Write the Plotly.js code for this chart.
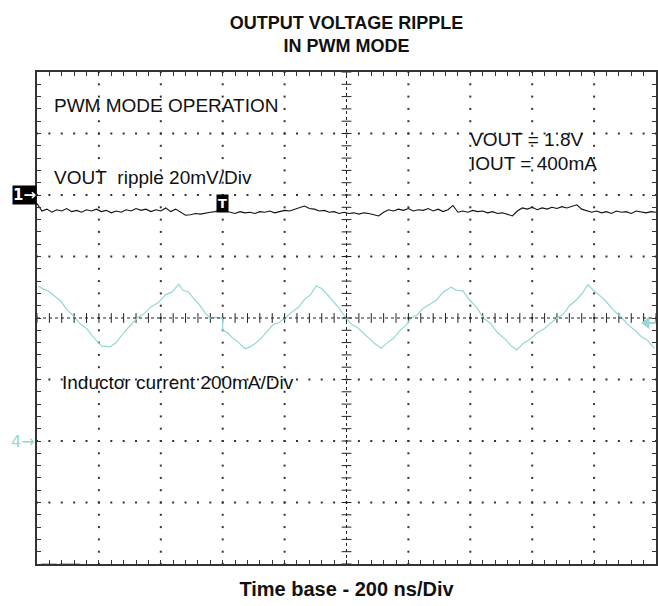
<!DOCTYPE html>
<html>
<head>
<meta charset="utf-8">
<script src="https://cdn.plot.ly/plotly-3.0.1.min.js"></script>
<style>html,body{margin:0;padding:0;background:#fff;}#chart{width:658px;height:606px;}</style>
</head>
<body>
<div id="chart"></div>
<script>
// ---- data (screen divisions: x 0..10 @ 200 ns/div, y -4..4) ----
const chartTitle = "OUTPUT VOLTAGE RIPPLE<br>IN PWM MODE";
const xTitle = "Time base - 200 ns/Div";

// VOUT ripple (channel 1, 20 mV/div), sampled evenly across the screen
const voutDiv = [
  1.86,1.74,1.77,1.72,1.76,1.74,1.78,1.73,1.75,1.72,
  1.76,1.74,1.77,1.73,1.75,1.71,1.74,1.72,1.76,1.74,
  1.78,1.75,1.77,1.73,1.76,1.74,1.79,1.73,1.77,1.72,
  1.67,1.68,1.70,1.69,1.71,1.72,1.73,1.76,1.74,1.72,
  1.70,1.73,1.71,1.72,1.70,1.73,1.72,1.74,1.71,1.73,
  1.75,1.74,1.77,1.80,1.82,1.78,1.77,1.74,1.75,1.72,
  1.73,1.70,1.72,1.70,1.71,1.69,1.71,1.70,1.68,1.66,
  1.72,1.76,1.74,1.77,1.75,1.78,1.74,1.76,1.75,1.78,
  1.74,1.77,1.73,1.76,1.83,1.72,1.74,1.72,1.75,1.73,
  1.74,1.71,1.73,1.70,1.71,1.68,1.66,1.74,1.79,1.77,
  1.80,1.76,1.79,1.77,1.80,1.78,1.81,1.79,1.82,1.84,
  1.77,1.75,1.72,1.74,1.71,1.73,1.70,1.74,1.72,1.73,
  1.70,1.74,1.72,1.71,1.73,1.72
];

// Inductor current (channel 4, 200 mA/div)
const ilT = [
  0.02,0.10,0.18,0.28,0.38,0.48,0.60,0.70,0.80,0.90,
  1.00,1.05,1.12,1.18,1.28,1.40,1.50,1.62,1.72,1.84,
  1.96,2.08,2.18,2.29,2.36,2.45,2.52,2.62,2.72,2.79,
  2.88,2.96,3.00,3.00,3.08,3.16,3.24,3.30,3.36,3.44,
  3.52,3.62,3.72,3.81,3.90,4.01,4.12,4.22,4.32,4.42,
  4.51,4.60,4.70,4.78,4.88,4.99,5.08,5.18,5.27,5.36,
  5.46,5.56,5.66,5.76,5.86,5.96,6.04,6.14,6.24,6.34,
  6.45,6.56,6.69,6.78,6.88,6.98,7.10,7.21,7.32,7.44,
  7.56,7.67,7.75,7.85,7.96,8.08,8.20,8.30,8.40,8.50,
  8.60,8.70,8.80,8.90,9.00,9.10,9.20,9.30,9.45,9.56,
  9.66,9.76,9.86,9.97
];
const ilDiv = [
  0.52,0.47,0.44,0.36,0.28,0.14,0.02,-0.10,-0.17,-0.30,
  -0.40,-0.46,-0.46,-0.47,-0.40,-0.24,-0.13,0.00,0.06,0.18,
  0.25,0.38,0.42,0.55,0.45,0.42,0.33,0.22,0.08,0.00,
  0.01,0.00,0.00,-0.20,-0.24,-0.33,-0.38,-0.44,-0.50,-0.47,
  -0.42,-0.33,-0.22,-0.11,-0.08,0.00,0.10,0.17,0.30,0.38,
  0.52,0.48,0.37,0.28,0.16,0.00,-0.10,-0.16,-0.24,-0.32,
  -0.42,-0.49,-0.40,-0.33,-0.21,-0.12,0.00,0.05,0.16,0.22,
  0.29,0.42,0.50,0.45,0.44,0.30,0.18,0.00,-0.08,-0.24,
  -0.34,-0.46,-0.52,-0.42,-0.35,-0.24,-0.17,-0.08,0.00,0.06,
  0.20,0.28,0.39,0.54,0.44,0.36,0.26,0.14,0.00,-0.12,
  -0.20,-0.30,-0.36,-0.49
];

// markers / labels
const ch1Level = 2, ch4Level = -2, trigTime = 3.0, trigLevel = -0.08;
const labels = ["PWM MODE OPERATION", "VOUT\u00a0\u00a0ripple 20mV/Div", "VOUT = 1.8V", "IOUT = 400mA", "Inductor current 200mA/Div"];

// ---- build ----
const cyan = "#98d6d6";
const gridColor = "#333";
const FONT = "Liberation Sans, Arial, sans-serif";

const voutT = voutDiv.map((_, i) => 10 * i / (voutDiv.length - 1));

// graticule dots
const dotX = [], dotY = [];
const steps = [];
for (let k = 0; k <= 50; k++) steps.push(k * 0.2);
const vsteps = [];
for (let k = 0; k <= 40; k++) vsteps.push(-4 + k * 0.2);
for (let gx = 1; gx <= 9; gx++) { if (gx === 5) continue; vsteps.forEach(v => { dotX.push(gx); dotY.push(v); }); }
for (let gy = -3; gy <= 3; gy++) { if (gy === 0) continue; steps.forEach(s => { dotX.push(s); dotY.push(gy); }); }

const data = [
  {x: dotX, y: dotY, mode: "markers", type: "scatter", hoverinfo: "skip",
   marker: {symbol: "square", size: 2, color: gridColor, line: {width: 0}}},
  {x: steps, y: steps.map(() => 0), mode: "markers", type: "scatter", hoverinfo: "skip",
   marker: {symbol: "line-ns", size: 7, line: {width: 1, color: "#222"}}},
  {x: vsteps.map(() => 5), y: vsteps, mode: "markers", type: "scatter", hoverinfo: "skip",
   marker: {symbol: "line-ew", size: 7, line: {width: 1, color: "#222"}}},
  {x: ilT, y: ilDiv, mode: "lines", type: "scatter", line: {color: cyan, width: 1.2}},
  {x: voutT, y: voutDiv, mode: "lines", type: "scatter", line: {color: "#111", width: 1.1}},
  {x: [9.85], y: [trigLevel], mode: "markers", type: "scatter",
   marker: {symbol: "triangle-left", size: 11, color: cyan}}
];

const annFont = {family: FONT, size: 19, color: "#111"};
const markFont = "DejaVu Sans, Liberation Sans, sans-serif";
const layout = {
  width: 658, height: 606,
  margin: {l: 37, r: 2, t: 72, b: 42},
  paper_bgcolor: "#fff", plot_bgcolor: "#fff",
  showlegend: false,
  title: {text: chartTitle, font: {family: FONT, size: 18, weight: "bold", color: "#111"},
          x: 0.5, xref: "paper", y: 1 - 29 / 606, yref: "container", yanchor: "middle"},
  xaxis: {range: [0, 10], showgrid: false, zeroline: false, showline: true, mirror: "allticks",
          linecolor: "#333", linewidth: 2, ticks: "inside", tick0: 0, dtick: 0.2, ticklen: 4,
          tickcolor: "#333", tickwidth: 1, showticklabels: false, fixedrange: true,
          title: {text: xTitle, font: {family: FONT, size: 20, weight: "bold", color: "#111"}, standoff: 17}},
  yaxis: {range: [-4, 4], showgrid: false, zeroline: false, showline: true, mirror: "allticks",
          linecolor: "#333", linewidth: 2, ticks: "inside", tick0: 0, dtick: 0.2, ticklen: 4,
          tickcolor: "#333", tickwidth: 1, showticklabels: false, fixedrange: true},
  shapes: [
    {type: "line", xref: "x", yref: "y", x0: 0, x1: 10, y0: 0, y1: 0, line: {color: "#222", width: 1, dash: "dot"}},
    {type: "line", xref: "x", yref: "y", x0: 5, x1: 5, y0: -4, y1: 4, line: {color: "#222", width: 1, dash: "dot"}},
    {type: "line", xref: "x", yref: "y", x0: 9.85, x1: 10, y0: trigLevel, y1: trigLevel, line: {color: cyan, width: 2}},
    {type: "line", xref: "x", yref: "y", x0: 0.07, x1: 0.32, y0: -4.02, y1: -4.02, line: {color: "#000", width: 3}},
    {type: "line", xref: "x", yref: "y", x0: 0.36, x1: 0.70, y0: -4.02, y1: -4.02, line: {color: "#000", width: 3}}
  ],
  annotations: [
    {text: labels[0], xref: "x", yref: "y", x: 0.25, y: 3.45, xanchor: "left", yanchor: "middle", showarrow: false, font: annFont},
    {text: labels[1], xref: "x", yref: "y", x: 0.25, y: 2.28, xanchor: "left", yanchor: "middle", showarrow: false, font: annFont},
    {text: labels[2], xref: "x", yref: "y", x: 6.97, y: 2.90, xanchor: "left", yanchor: "middle", showarrow: false, font: annFont},
    {text: labels[3], xref: "x", yref: "y", x: 6.97, y: 2.51, xanchor: "left", yanchor: "middle", showarrow: false, font: annFont},
    {text: labels[4], xref: "x", yref: "y", x: 0.37, y: -1.05, xanchor: "left", yanchor: "middle", showarrow: false, font: annFont},
    {text: "<b>1\u2192</b>", xref: "paper", yref: "y", x: 0, y: ch1Level, xanchor: "right", yanchor: "middle", showarrow: false,
     bgcolor: "#000", borderpad: 0, font: {family: markFont, size: 15, color: "#fff"}},
    {text: "4\u2192", xref: "paper", yref: "y", x: 0, y: ch4Level, xanchor: "right", yanchor: "middle", showarrow: false,
     font: {family: markFont, size: 16, color: cyan}},
    {text: "<b>T</b>", xref: "x", yref: "y", x: trigTime, y: 1.86, xanchor: "center", yanchor: "middle", showarrow: false,
     bgcolor: "#000", borderpad: 1, font: {family: markFont, size: 13, color: "#fff"}}
  ]
};

Plotly.newPlot("chart", data, layout, {displayModeBar: false, staticPlot: true});
</script>
</body>
</html>
